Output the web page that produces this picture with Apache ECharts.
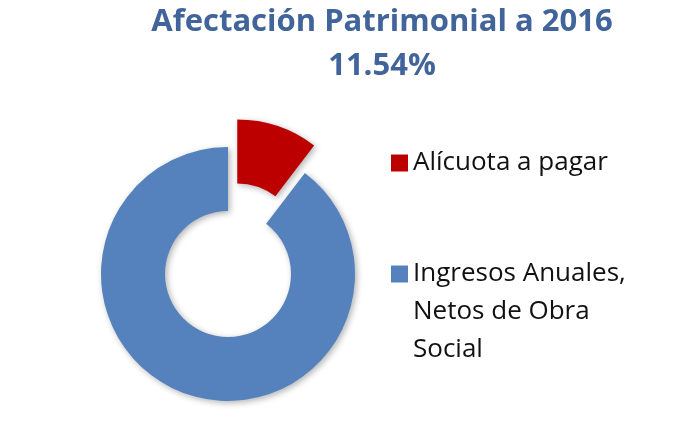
<!DOCTYPE html>
<html>
<head>
<meta charset="utf-8">
<script src="https://cdn.jsdelivr.net/npm/echarts@6/dist/echarts.min.js"></script>
<style>html,body{margin:0;padding:0;background:#fff;}#c{width:692px;height:426px;}</style>
</head>
<body>
<div id="c"></div>
<script>
const titleLines = ['Afectación Patrimonial a 2016', '11.54%'];
const categories = ['Alícuota a pagar', 'Ingresos Anuales, Netos de Obra Social'];
const legendLines = [['Alícuota a pagar'], ['Ingresos Anuales,', 'Netos de Obra', 'Social']];
const values = [11.54, 100];
const colors = ['#BC0000', '#5582BD'];

const chart = echarts.init(document.getElementById('c'));
const FONT = 'Open Sans';
const LH = 38;
// pad with empty lines so the icon lines up with the first text line
const legendText = n => {
  const lines = legendLines[categories.indexOf(n)];
  const pad = new Array(lines.length - 1).fill('');
  return pad.concat(lines).join('\n');
};
const legendBase = {
  orient: 'vertical', left: 391, padding: 0,
  itemWidth: 17, itemHeight: 17, itemGap: 7, selectedMode: false,
  icon: 'rect',
  formatter: legendText,
  textStyle: {fontFamily: FONT, fontSize: 26, lineHeight: LH, color: '#111'}
};
chart.setOption({
  animation: false,
  color: colors,
  title: {
    text: titleLines.join('\n'),
    left: 382,
    top: 0,
    padding: 0,
    textAlign: 'center',
    textStyle: {fontFamily: FONT, fontWeight: 'bold', fontSize: 31, lineHeight: 44, color: '#41649A'}
  },
  legend: [
    Object.assign({}, legendBase, {data: [categories[0]], top: 144}),
    Object.assign({}, legendBase, {data: [categories[1]], top: 179})
  ],
  series: [{
    type: 'pie',
    center: [228, 274],
    radius: [63, 127],
    startAngle: 90,
    clockwise: true,
    selectedMode: 'single',
    selectedOffset: 29,
    label: {show: false},
    labelLine: {show: false},
    emphasis: {disabled: true},
    itemStyle: {shadowBlur: 6, shadowColor: 'rgba(0,0,0,0.3)', shadowOffsetX: 2, shadowOffsetY: 2},
    data: categories.map((c, i) => ({name: c, value: values[i], selected: i === 0}))
  }]
});
</script>
</body>
</html>
